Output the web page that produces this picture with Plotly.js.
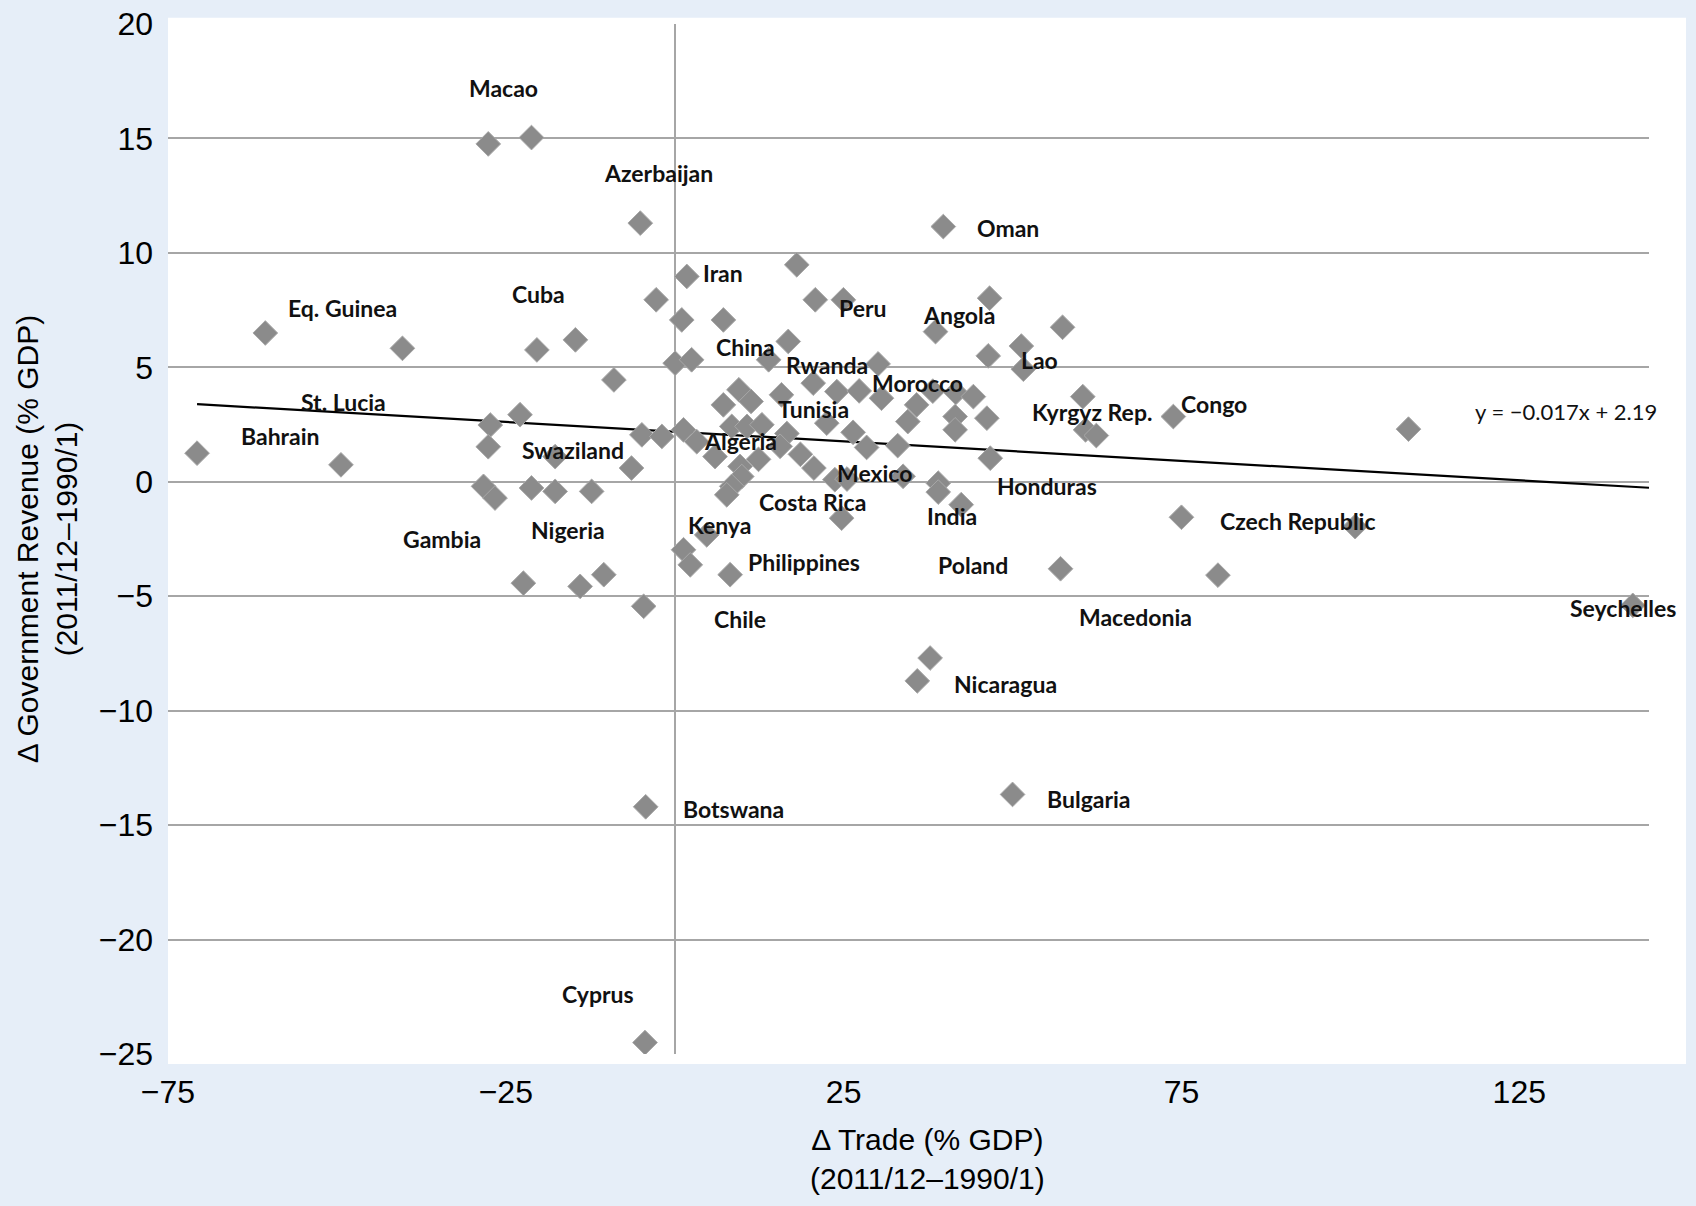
<!DOCTYPE html>
<html>
<head>
<meta charset="utf-8">
<script src="https://cdn.plot.ly/plotly-3.0.1.min.js"></script>
<style>
  body { margin: 0; background: #e6eef8; }
  #chart { width: 1696px; height: 1206px; }
</style>
</head>
<body>
<div id="chart"></div>
<script>
// Change in trade (x) vs change in government revenue (y), % of GDP

var trade = [
  -70.7, -60.6, -49.4, -40.3, -27.6, -21.2, -27.3, -27.6, -22.9, -28.3,
  -26.6, -21.2, -17.7, -12.3, -20.4, -14.7, -9.0, -22.4, -14.0, -10.5,
  -17.7, -5.1, -2.75, -6.4, -4.86, -1.9, -4.6, -4.3, -4.4,
  1.79, 1.04, 7.2, 0.06, 2.5, 13.9, 16.8, 18.06, 20.8, 24.96,
  7.2, 9.5, 11.3, 15.8, 20.5, 24.0, 27.3, 30.6, 30.1, 1.3,
  3.26, 8.44, 10.7, 12.9, 16.6, 22.5, 26.4, 28.4, 33.0, 5.97,
  12.4, 9.67, 9.92, 8.44, 7.7, 18.6, 20.6, 23.7, 25.5, 24.7,
  15.6, 1.3, 2.3, 4.74, 8.2,
  39.75, 46.6, 38.6, 57.4, 46.4, 51.3, 51.6, 35.8, 38.2, 41.6,
  44.2, 34.5, 41.5, 41.5, 46.2, 46.7, 33.8, 39.0, 39.0, 42.4,
  60.4, 60.8, 62.4, 73.8, 75.0, 80.4, 57.1, 100.7, 108.6, 141.8,
  37.8, 35.9, 50.0
];
var revenue = [
  1.25, 6.5, 0.74, 5.83, 14.76, 15.04, 2.48, 1.53, 2.93, -0.2,
  -0.71, -0.27, -0.42, -0.42, 5.76, 6.2, 4.45, -4.43, -4.57, -4.06,
  1.1, 11.3, 7.95, 0.6, 2.05, 1.98, -5.44, -14.2, -24.5,
  8.97, 7.07, 7.07, 5.18, 5.33, 5.33, 6.13, 9.48, 7.95, 7.95,
  3.36, 4.02, 3.51, 3.8, 4.31, 3.94, 3.97, 3.65, 5.15, 2.27,
  1.75, 2.42, 2.42, 2.49, 2.11, 2.56, 2.16, 1.5, 1.58, 1.1,
  0.98, 0.67, 0.23, -0.2, -0.57, 1.2, 0.6, 0.09, 0.12, -1.59,
  1.55, -2.97, -3.63, -2.32, -4.06,
  11.15, 8.02, 6.56, 6.75, 5.5, 5.93, 4.92, 3.36, 3.96, 3.9,
  3.72, 2.63, 2.85, 2.27, 2.78, 1.03, 0.24, -0.06, -0.45, -1.0,
  3.72, 2.27, 2.02, 2.85, -1.55, -4.08, -3.8, -1.96, 2.3, -5.4,
  -7.7, -8.7, -13.66
];

// country labels, placed where they sit in the picture
var labelNames = [
  'Macao', 'Azerbaijan', 'Oman', 'Iran', 'Eq. Guinea', 'Cuba', 'Peru', 'Angola',
  'China', 'Rwanda', 'Lao', 'Morocco', 'St. Lucia', 'Tunisia', 'Kyrgyz Rep.', 'Congo',
  'Bahrain', 'Swaziland', 'Algeria', 'Mexico', 'Honduras', 'Costa Rica', 'India',
  'Czech Republic', 'Kenya', 'Gambia', 'Nigeria', 'Philippines', 'Poland', 'Chile',
  'Macedonia', 'Seychelles', 'Nicaragua', 'Bulgaria', 'Botswana', 'Cyprus'
];
var labelX = [
  -25.4, -2.4, 49.4, 7.1, -49.2, -20.1, 27.9, 42.1,
  10.4, 22.6, 54.0, 36.0, -49.0, 20.5, 61.7, 79.8,
  -58.4, -15.0, 9.7, 29.5, 55.1, 20.4, 41.0,
  92.2, 6.6, -34.5, -15.8, 19.2, 44.2, 9.6,
  68.2, 140.4, 48.9, 61.3, 8.7, -11.4
];
var labelY = [
  17.2, 13.5, 11.1, 9.1, 7.6, 8.2, 7.6, 7.3,
  5.9, 5.1, 5.3, 4.3, 3.5, 3.2, 3.05, 3.4,
  2.0, 1.4, 1.8, 0.4, -0.2, -0.9, -1.5,
  -1.7, -1.9, -2.5, -2.1, -3.5, -3.65, -6.0,
  -5.9, -5.5, -8.85, -13.85, -14.3, -22.4
];

// linear trend as printed on the chart
var slope = -0.017, intercept = 2.19;
var xMin = -75, xMax = 144.2;

var lineX = [Math.min.apply(null, trade), xMax];
var lineY = lineX.map(function (x) { return slope * x + intercept; });

var points = {
  x: trade,
  y: revenue,
  mode: 'markers',
  type: 'scatter',
  marker: {
    symbol: 'diamond',
    size: 19,
    color: '#8b8b8b',
    line: { color: '#a8a8a8', width: 1 }
  },
  hoverinfo: 'x+y'
};

var trend = {
  x: lineX,
  y: lineY,
  mode: 'lines',
  type: 'scatter',
  line: { color: '#000000', width: 2.2 },
  hoverinfo: 'skip'
};

var labelFont = { family: 'Lato', size: 23, color: '#111111', weight: 700 };
var notes = labelNames.map(function (name, i) {
  return {
    x: labelX[i], y: labelY[i], xref: 'x', yref: 'y',
    text: name, showarrow: false, font: labelFont
  };
});
notes.push({
  x: 131.9, y: 3.05, xref: 'x', yref: 'y',
  text: 'y = \u22120.017x + 2.19', showarrow: false,
  font: { family: 'Lato', size: 22, color: '#111111' }
});

var tickFont = { family: 'Liberation Sans, Arial, sans-serif', size: 32, color: '#000000' };
var titleFont = { family: 'Liberation Sans, Arial, sans-serif', size: 30, color: '#000000' };

// x title sits a little right of the axis centre in the original
notes.push({
  x: 0.5128, y: -0.102, xref: 'paper', yref: 'paper',
  xanchor: 'center', yanchor: 'middle',
  text: '\u0394 Trade (% GDP)<br>(2011/12\u20131990/1)',
  showarrow: false, font: titleFont
});

var layout = {
  width: 1696,
  height: 1206,
  margin: { l: 168, r: 47, t: 24, b: 152 },
  paper_bgcolor: '#e6eef8',
  plot_bgcolor: '#ffffff',
  showlegend: false,
  xaxis: {
    range: [xMin, xMax],
    tickvals: [-75, -25, 25, 75, 125],
    showgrid: false,
    zeroline: true,
    zerolinecolor: '#a6a6a6',
    zerolinewidth: 2,
    ticks: '',
    tickfont: tickFont,
    ticklabelstandoff: 16
  },
  yaxis: {
    range: [-25, 20],
    dtick: 5,
    showgrid: true,
    gridcolor: '#a6a6a6',
    gridwidth: 2,
    zeroline: false,
    ticks: '',
    tickfont: tickFont,
    ticklabelstandoff: 14,
    title: {
      text: '\u0394 Government Revenue (% GDP)<br>(2011/12\u20131990/1)',
      font: titleFont,
      standoff: 12
    }
  },
  shapes: [{
    type: 'rect', xref: 'paper', yref: 'paper',
    x0: 0, x1: 1.025, y0: -0.0097, y1: 1.006,
    fillcolor: '#ffffff', line: { width: 0 }, layer: 'below'
  }],
  annotations: notes
};

Plotly.newPlot('chart', [trend, points], layout, { displayModeBar: false });
</script>
</body>
</html>
